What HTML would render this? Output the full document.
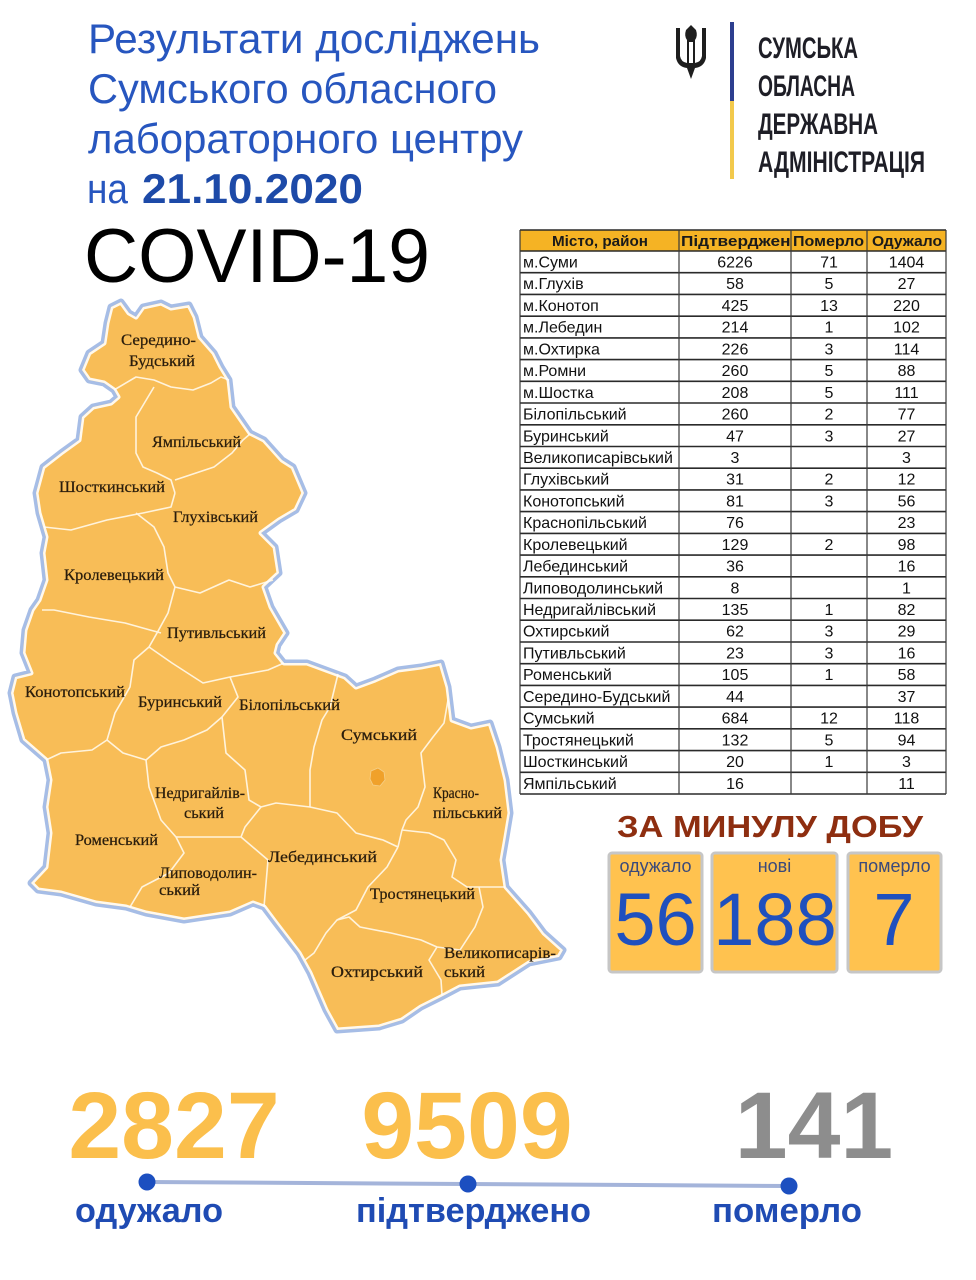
<!DOCTYPE html>
<html><head><meta charset="utf-8">
<style>
html,body{margin:0;padding:0;background:#fff;}
svg{display:block;}
text{font-family:"Liberation Sans","DejaVu Sans",sans-serif;}
.serif{font-family:"Liberation Serif","DejaVu Serif",serif;}
</style></head>
<body>
<svg width="976" height="1280" viewBox="0 0 976 1280" xmlns="http://www.w3.org/2000/svg">
<rect width="976" height="1280" fill="#fff"/>
<defs>
<path id="outline" d="M82,370 L89,353 L104,343 L107,323 L111,307 L121,302 L129,313 L136,317 L143,307 L161,303 L171,308 L189,305 L195,317 L200,337 L214,353 L221,367 L229,380 L232,407 L250,433 L264,440 L282,460 L293,467 L304,493 L296,510 L279,520 L261,533 L275,547 L279,573 L264,587 L271,607 L286,633 L278,645 L276,653 L284,663 L307,663 L326,670 L345,677 L356,687 L375,680 L398,670 L421,667 L441,663 L448,687 L452,720 L471,727 L490,723 L498,747 L506,780 L510,813 L506,837 L502,860 L506,887 L529,913 L544,933 L563,950 L559,957 L529,963 L498,983 L460,987 L441,997 L421,1007 L402,1020 L379,1027 L337,1030 L326,1010 L310,973 L299,953 L276,923 L264,907 L253,903 L230,913 L184,920 L146,913 L126,907 L96,903 L61,893 L38,890 L31,883 L46,867 L50,833 L46,807 L50,780 L46,760 L23,740 L15,713 L11,693 L15,677 L31,673 L23,653 L25,630 L32,610 L39,600 L46,580 L43,553 L46,537 L39,513 L36,493 L43,467 L61,453 L79,440 L82,417 L93,407 L111,403 L118,397 L114,390 L104,383 L89,380 Z"/>
<clipPath id="mapclip"><use href="#outline"/></clipPath>
<clipPath id="c2"><rect x="679" y="230" width="111" height="21"/></clipPath>
</defs>

<!-- Title -->
<g fill="#2756bf" font-size="42">
<text x="88" y="53" textLength="452" lengthAdjust="spacingAndGlyphs">Результати досліджень</text>
<text x="88" y="103" textLength="409" lengthAdjust="spacingAndGlyphs">Сумського обласного</text>
<text x="88" y="153" textLength="435" lengthAdjust="spacingAndGlyphs">лабораторного центру</text>
<text x="87" y="203" textLength="41" lengthAdjust="spacingAndGlyphs">на</text>
<text x="142" y="203" font-weight="bold" fill="#1d4aa8" textLength="221" lengthAdjust="spacingAndGlyphs">21.10.2020</text>
</g>
<text x="84" y="282" font-size="76" fill="#000" textLength="346" lengthAdjust="spacingAndGlyphs">COVID-19</text>

<!-- Logo -->
<g fill="#1e1e1e">
<path d="M676 28 L680 28 L680 56 Q681 62 687 63 L687 40 Q684 36 686 30 L691 25 L696 30 Q698 36 695 40 L695 63 Q701 62 702 56 L702 28 L706 28 L706 58 Q704 67 695 68 L691 79 L687 68 Q678 67 676 58 Z M689 42 L689 63 L693 63 L693 42 Z" fill-rule="evenodd"/>
</g>
<rect x="730" y="22" width="4" height="79" fill="#2d3e8f"/>
<rect x="730" y="101" width="4" height="78" fill="#f2c94c"/>
<g fill="#1e1e26" font-size="30" font-weight="bold">
<text x="758" y="58" textLength="100" lengthAdjust="spacingAndGlyphs">СУМСЬКА</text>
<text x="758" y="96" textLength="97" lengthAdjust="spacingAndGlyphs">ОБЛАСНА</text>
<text x="758" y="134" textLength="120" lengthAdjust="spacingAndGlyphs">ДЕРЖАВНА</text>
<text x="758" y="172" textLength="167" lengthAdjust="spacingAndGlyphs">АДМІНІСТРАЦІЯ</text>
</g>

<!-- Map -->
<use href="#outline" fill="none" stroke="#a6bde6" stroke-width="7" stroke-linejoin="round"/>
<use href="#outline" fill="#f8bd57"/>
<g fill="none" stroke="#fff3dc" stroke-width="1.6" stroke-linejoin="round">
<polyline points="114,390 136,377 154,380 171,387 193,390 211,383 221,377 229,380"/>
<polyline points="154,387 136,417 136,453 143,467 157,473 171,480 175,493"/>
<polyline points="175,493 171,507 143,513 107,520 71,530 44,527"/>
<polyline points="175,480 214,467 232,453 243,440 250,434"/>
<polyline points="136,513 154,527 164,547 168,573 175,587"/>
<polyline points="175,587 200,593 229,580 250,587 273,580"/>
<polyline points="42,610 54,610 89,617 125,623 150,630 161,633"/>
<polyline points="175,587 168,613 157,633 149,647 134,660 130,687 115,713 107,740 92,750 61,753 46,760"/>
<polyline points="149,647 172,663 203,683 230,677 268,670 284,663"/>
<polyline points="230,677 238,697 222,717 207,730 184,740 161,747 146,760 123,753 107,740"/>
<polyline points="146,760 149,787 161,820 176,837 184,853 169,873 142,887 130,907"/>
<polyline points="176,837 215,837 241,837 268,860 264,907"/>
<polyline points="222,717 226,753 245,770 249,800 261,807 245,827 241,837"/>
<polyline points="338,674 330,707 322,720 314,747 310,770 310,807 276,803 261,807"/>
<polyline points="310,807 337,813 356,833 383,840 398,847"/>
<polyline points="448,700 444,723 433,737 421,753 425,787 418,807 406,820 402,830 398,847"/>
<polyline points="398,847 387,867 368,887 356,910 337,920 326,933 314,953 305,960"/>
<polyline points="402,830 429,833 444,840 456,860 452,877 467,887 505,887"/>
<polyline points="337,920 349,917 360,927 391,933 421,940 437,947 460,950 475,927 483,907 479,887"/>
<polyline points="437,947 429,960 441,980 442,995"/>
</g>
<use href="#outline" fill="none" stroke="#ffffff" stroke-width="5" stroke-linejoin="round" clip-path="url(#mapclip)" opacity="0.9"/>
<path d="M371,771 L378,768 L384,772 L385,780 L380,786 L373,785 L370,779 Z" fill="#f0a12a" stroke="#f5d08a" stroke-width="0.8"/>

<g class="serif" fill="#2a1d0c" font-size="16" stroke="#2a1d0c" stroke-width="0.25">
<text class="serif" x="121" y="345" textLength="75" lengthAdjust="spacingAndGlyphs">Середино-</text>
<text class="serif" x="129" y="366" textLength="66" lengthAdjust="spacingAndGlyphs">Будський</text>
<text class="serif" x="152" y="447" textLength="89" lengthAdjust="spacingAndGlyphs">Ямпільський</text>
<text class="serif" x="59" y="492" textLength="106" lengthAdjust="spacingAndGlyphs">Шосткинський</text>
<text class="serif" x="173" y="522" textLength="85" lengthAdjust="spacingAndGlyphs">Глухівський</text>
<text class="serif" x="64" y="580" textLength="100" lengthAdjust="spacingAndGlyphs">Кролевецький</text>
<text class="serif" x="167" y="638" textLength="99" lengthAdjust="spacingAndGlyphs">Путивльський</text>
<text class="serif" x="25" y="697" textLength="100" lengthAdjust="spacingAndGlyphs">Конотопський</text>
<text class="serif" x="138" y="707" textLength="84" lengthAdjust="spacingAndGlyphs">Буринський</text>
<text class="serif" x="239" y="710" textLength="101" lengthAdjust="spacingAndGlyphs">Білопільський</text>
<text class="serif" x="341" y="740" textLength="76" lengthAdjust="spacingAndGlyphs">Сумський</text>
<text class="serif" x="155" y="798" textLength="90" lengthAdjust="spacingAndGlyphs">Недригайлів-</text>
<text class="serif" x="184" y="818" textLength="40" lengthAdjust="spacingAndGlyphs">ський</text>
<text class="serif" x="433" y="798" textLength="46" lengthAdjust="spacingAndGlyphs">Красно-</text>
<text class="serif" x="433" y="818" textLength="69" lengthAdjust="spacingAndGlyphs">пільський</text>
<text class="serif" x="75" y="845" textLength="83" lengthAdjust="spacingAndGlyphs">Роменський</text>
<text class="serif" x="268" y="862" textLength="109" lengthAdjust="spacingAndGlyphs">Лебединський</text>
<text class="serif" x="159" y="878" textLength="98" lengthAdjust="spacingAndGlyphs">Липоводолин-</text>
<text class="serif" x="159" y="895" textLength="41" lengthAdjust="spacingAndGlyphs">ський</text>
<text class="serif" x="370" y="899" textLength="105" lengthAdjust="spacingAndGlyphs">Тростянецький</text>
<text class="serif" x="444" y="958" textLength="112" lengthAdjust="spacingAndGlyphs">Великописарів-</text>
<text class="serif" x="444" y="977" textLength="41" lengthAdjust="spacingAndGlyphs">ський</text>
<text class="serif" x="331" y="977" textLength="92" lengthAdjust="spacingAndGlyphs">Охтирський</text>
</g>

<!-- Table -->
<rect x="520" y="230" width="426" height="21" fill="#f5b324"/>
<g font-size="15" font-weight="bold" fill="#1a1a1a">
<text x="552" y="246" textLength="96" lengthAdjust="spacingAndGlyphs">Місто, район</text>
<g clip-path="url(#c2)"><text x="681" y="246" textLength="120" lengthAdjust="spacingAndGlyphs">Підтверджено</text></g>
<text x="793" y="246" textLength="71" lengthAdjust="spacingAndGlyphs">Померло</text>
<text x="872" y="246" textLength="70" lengthAdjust="spacingAndGlyphs">Одужало</text>
</g>
<path d="M520 230H946 M520 251H946 M520 272.7H946 M520 294.4H946 M520 316.2H946 M520 337.9H946 M520 359.6H946 M520 381.3H946 M520 403H946 M520 424.8H946 M520 446.5H946 M520 468.2H946 M520 489.9H946 M520 511.6H946 M520 533.4H946 M520 555.1H946 M520 576.8H946 M520 598.5H946 M520 620.2H946 M520 642H946 M520 663.7H946 M520 685.4H946 M520 707.1H946 M520 728.8H946 M520 750.6H946 M520 772.3H946 M520 794H946" stroke="#2a2a2a" stroke-width="1.6" fill="none"/>
<path d="M520 230V794 M679 230V794 M791 230V794 M867 230V794 M946 230V794" stroke="#3a3a3a" stroke-width="1.2" fill="none"/>

<g font-size="16" fill="#111">
<text x="523" y="267.5">м.Суми</text>
<text x="523" y="289.2">м.Глухів</text>
<text x="523" y="310.9">м.Конотоп</text>
<text x="523" y="332.7">м.Лебедин</text>
<text x="523" y="354.4">м.Охтирка</text>
<text x="523" y="376.1">м.Ромни</text>
<text x="523" y="397.8">м.Шостка</text>
<text x="523" y="419.5">Білопільський</text>
<text x="523" y="441.3">Буринський</text>
<text x="523" y="463">Великописарівський</text>
<text x="523" y="484.7">Глухівський</text>
<text x="523" y="506.4">Конотопський</text>
<text x="523" y="528.1">Краснопільський</text>
<text x="523" y="549.9">Кролевецький</text>
<text x="523" y="571.6">Лебединський</text>
<text x="523" y="593.3">Липоводолинський</text>
<text x="523" y="615">Недригайлівський</text>
<text x="523" y="636.7">Охтирський</text>
<text x="523" y="658.5">Путивльський</text>
<text x="523" y="680.2">Роменський</text>
<text x="523" y="701.9">Середино-Будський</text>
<text x="523" y="723.6">Сумський</text>
<text x="523" y="745.3">Тростянецький</text>
<text x="523" y="767.1">Шосткинський</text>
<text x="523" y="788.8">Ямпільський</text>
</g>
<g font-size="16" fill="#111" text-anchor="middle">
<text x="735" y="267.5">6226</text><text x="829" y="267.5">71</text><text x="906.5" y="267.5">1404</text>
<text x="735" y="289.2">58</text><text x="829" y="289.2">5</text><text x="906.5" y="289.2">27</text>
<text x="735" y="310.9">425</text><text x="829" y="310.9">13</text><text x="906.5" y="310.9">220</text>
<text x="735" y="332.7">214</text><text x="829" y="332.7">1</text><text x="906.5" y="332.7">102</text>
<text x="735" y="354.4">226</text><text x="829" y="354.4">3</text><text x="906.5" y="354.4">114</text>
<text x="735" y="376.1">260</text><text x="829" y="376.1">5</text><text x="906.5" y="376.1">88</text>
<text x="735" y="397.8">208</text><text x="829" y="397.8">5</text><text x="906.5" y="397.8">111</text>
<text x="735" y="419.5">260</text><text x="829" y="419.5">2</text><text x="906.5" y="419.5">77</text>
<text x="735" y="441.3">47</text><text x="829" y="441.3">3</text><text x="906.5" y="441.3">27</text>
<text x="735" y="463">3</text><text x="906.5" y="463">3</text>
<text x="735" y="484.7">31</text><text x="829" y="484.7">2</text><text x="906.5" y="484.7">12</text>
<text x="735" y="506.4">81</text><text x="829" y="506.4">3</text><text x="906.5" y="506.4">56</text>
<text x="735" y="528.1">76</text><text x="906.5" y="528.1">23</text>
<text x="735" y="549.9">129</text><text x="829" y="549.9">2</text><text x="906.5" y="549.9">98</text>
<text x="735" y="571.6">36</text><text x="906.5" y="571.6">16</text>
<text x="735" y="593.3">8</text><text x="906.5" y="593.3">1</text>
<text x="735" y="615">135</text><text x="829" y="615">1</text><text x="906.5" y="615">82</text>
<text x="735" y="636.7">62</text><text x="829" y="636.7">3</text><text x="906.5" y="636.7">29</text>
<text x="735" y="658.5">23</text><text x="829" y="658.5">3</text><text x="906.5" y="658.5">16</text>
<text x="735" y="680.2">105</text><text x="829" y="680.2">1</text><text x="906.5" y="680.2">58</text>
<text x="735" y="701.9">44</text><text x="906.5" y="701.9">37</text>
<text x="735" y="723.6">684</text><text x="829" y="723.6">12</text><text x="906.5" y="723.6">118</text>
<text x="735" y="745.3">132</text><text x="829" y="745.3">5</text><text x="906.5" y="745.3">94</text>
<text x="735" y="767.1">20</text><text x="829" y="767.1">1</text><text x="906.5" y="767.1">3</text>
<text x="735" y="788.8">16</text><text x="906.5" y="788.8">11</text>
</g>

<!-- Daily -->
<text x="617" y="837" font-size="31" font-weight="bold" fill="#8e2e10" textLength="306" lengthAdjust="spacingAndGlyphs">ЗА МИНУЛУ ДОБУ</text>
<rect x="609" y="853" width="93" height="119" rx="3" fill="#ffc24f" stroke="#c6c6c6" stroke-width="3"/>
<rect x="712" y="853" width="125" height="119" rx="3" fill="#ffc24f" stroke="#c6c6c6" stroke-width="3"/>
<rect x="848" y="853" width="93" height="119" rx="3" fill="#ffc24f" stroke="#c6c6c6" stroke-width="3"/>
<g font-size="18" fill="#3b4a7a" text-anchor="middle">
<text x="655.5" y="872">одужало</text>
<text x="774.5" y="872">нові</text>
<text x="894.5" y="872">померло</text>
</g>
<g font-size="74" fill="#1f50be" text-anchor="middle">
<text x="655.5" y="945">56</text>
<text x="775" y="945">188</text>
<text x="894" y="945">7</text>
</g>

<!-- Bottom totals -->
<g font-size="95" font-weight="bold" text-anchor="middle">
<text x="174" y="1158" fill="#fbbf4c">2827</text>
<text x="467" y="1158" fill="#fbbf4c">9509</text>
<text x="814" y="1158" fill="#8d8d8d">141</text>
</g>
<line x1="147" y1="1182" x2="789" y2="1186" stroke="#a4b4da" stroke-width="4"/>
<circle cx="147" cy="1182" r="8.5" fill="#1c4fc0"/>
<circle cx="468" cy="1184" r="8.5" fill="#1c4fc0"/>
<circle cx="789" cy="1186" r="8.5" fill="#1c4fc0"/>
<g font-size="34" font-weight="bold" fill="#1f4bb3">
<text x="75" y="1222" textLength="148" lengthAdjust="spacingAndGlyphs">одужало</text>
<text x="356" y="1222" textLength="235" lengthAdjust="spacingAndGlyphs">підтверджено</text>
<text x="712" y="1222" textLength="150" lengthAdjust="spacingAndGlyphs">померло</text>
</g>
</svg>
</body></html>
